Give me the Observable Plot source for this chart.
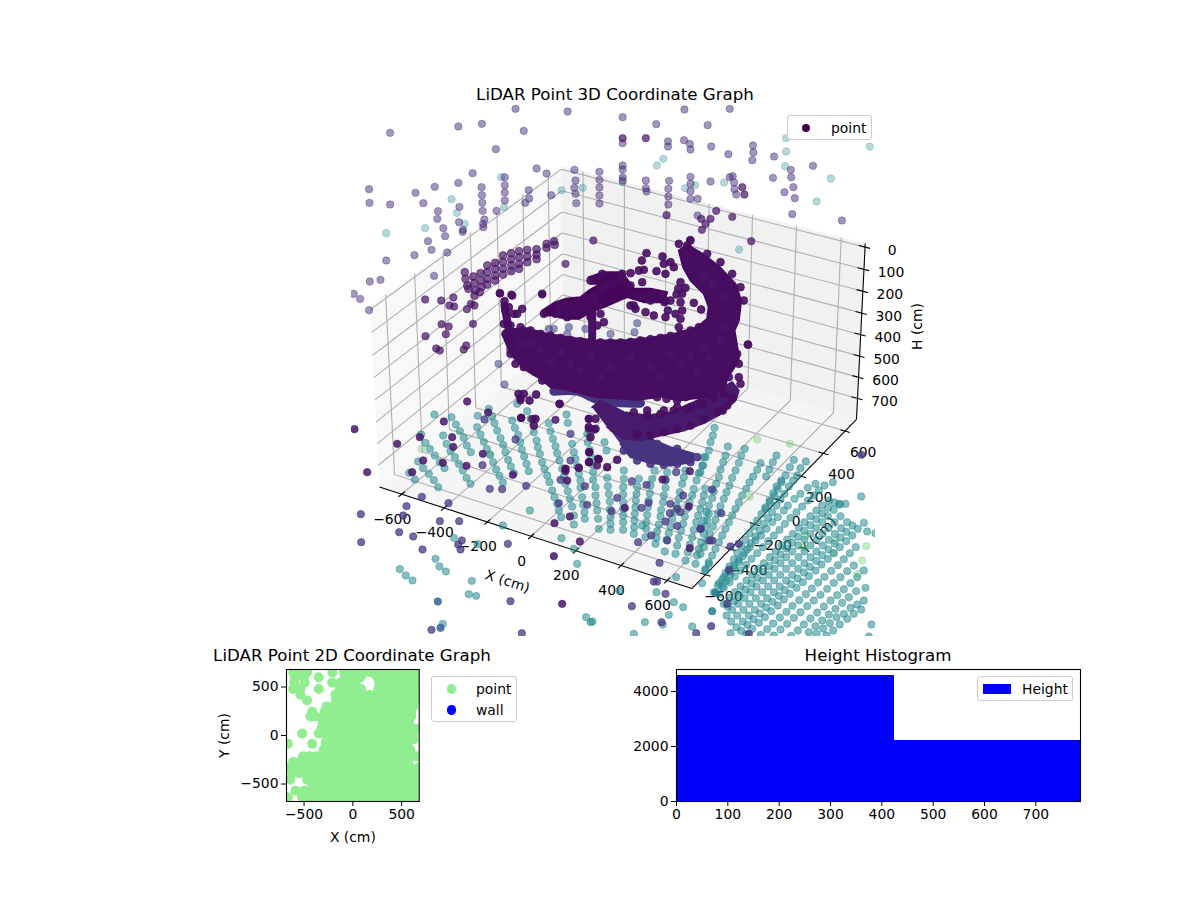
<!DOCTYPE html>
<html><head><meta charset="utf-8">
<script src="https://cdn.jsdelivr.net/npm/d3@7"></script>
<script src="https://cdn.jsdelivr.net/npm/@observablehq/plot@0.6"></script>
<style>
html,body{margin:0;padding:0;background:#fff}
#page{position:relative;width:1200px;height:900px;overflow:hidden;font-family:"DejaVu Sans",sans-serif;color:#000}
#page svg,.abs{position:absolute}
.title{font-size:16.67px;transform:translateX(-50%);white-space:nowrap;line-height:20px}
.legend{position:absolute;box-sizing:border-box;border:1px solid #ccc;border-radius:3px;background:rgba(255,255,255,.85)}
.legend span{position:absolute;font-size:13.9px;line-height:16px;white-space:nowrap}
.legend i{position:absolute;display:block}
</style></head><body><div id="page"></div>
<script>
/* ---------- tick labels and limits of the three panels ---------- */
const xyTicks = [-600,-400,-200,0,200,400,600];
const hTicks = [0,100,200,300,400,500,600,700];
const paneXY = 706;          // cm, half width of the 3D panes
const paneHLow = -16, paneHHigh = 801; // cm, top and bottom of the 3D panes
const ticks2D = [-500,0,500];
const histXTicks = [0,100,200,300,400,500,600,700];
const histYTicks = [0,2000,4000];
const histEdges = [0,425,787];
const histCounts = [4580,2218];

/* ---------- 3D points (projected positions, crop units) ----------
   crops: [left, top, x zoom, y zoom] */
const crops = {A:[350,400,3,3],B:[530,400,3,3],C:[700,400,3,3],D:[490,230,3,3],T:[340,90,2.8,3]};

const tealFloorA = [203,183,218,203,235,220,250,239,263,260,193,237,176,217,212,102,225,127,238,145,253,165,268,185,282,203,252,42,278,105,288,130,300,152,313,170,325,190,337,210,348,232,360,250,303,50,316,72,328,92,340,112,349,135,361,155,382,46,380,80,390,102,400,124,409,145,419,163,428,185,437,207,447,226,457,246,415,25,425,48,432,68,440,90,450,113,458,133,465,155,473,178,481,198,490,218,485,60,493,82,503,103,509,125,514,147,521,168,528,190,535,212,500,10,530,32,540,55,457,375,538,330,310,412,381,431,255,475,267,498,286,513,148,506,166,525,186,540,364,541,355,581,377,586,277,670];
const tealFloorB = [10,95,18,120,22,140,28,160,35,185,42,205,50,225,57,245,65,270,72,290,80,310,85,330,92,350,55,68,60,92,67,115,75,137,80,158,87,180,95,205,100,228,105,250,112,272,118,295,125,318,130,345,130,372,108,42,112,67,125,130,130,155,135,175,140,197,145,220,150,240,150,262,155,290,158,312,162,335,163,355,170,100,172,125,178,148,182,170,185,192,188,215,188,238,195,260,195,285,198,308,200,330,203,355,205,385,222,125,228,150,230,232,232,257,235,280,238,303,238,327,240,350,240,370,240,388,280,210,280,235,278,260,278,282,278,305,278,325,278,345,278,365,278,388,325,235,320,258,318,280,316,300,315,320,313,340,312,360,311,380,310,400,372,210,365,235,360,255,358,278,355,300,352,320,350,343,348,365,347,385,345,410,410,215,405,240,405,262,400,285,398,305,392,328,390,348,385,372,380,392,378,412,375,430,465,210,460,230,455,250,448,275,445,295,438,315,432,335,425,355,420,378,415,398,408,418,403,453,520,170,515,195,505,218,498,240,490,265,485,285,477,305,470,325,463,348,458,370,452,390,445,412,440,435,435,460,525,265,520,285,515,305,510,325,503,345,497,365,490,388,485,410,478,432,472,455,465,480,535,340,530,360,525,380,520,400,512,425,505,445,500,465,495,490,525,510,515,548,535,490,93,413,130,445,140,490,335,375,437,530,267,570,378,575,430,605,458,620,485,678,415,643,343,665,397,672,310,700,167,650,180,665,186,663];
const tealFloorC = [0,215,8,195,15,170,25,150,30,125,37,105,42,82,82,138,75,165,68,185,60,207,55,230,47,250,40,273,35,293,25,315,18,335,10,360,2,380,133,145,122,165,115,187,105,210,95,232,87,255,78,275,70,295,60,317,52,338,45,358,37,378,28,400,20,420,10,440,0,460,180,188,170,208,158,228,147,245,137,265,125,285,115,305,105,325,95,345,85,365,75,385,65,405,55,425,45,445,35,465,25,485,15,505,228,165,217,185,207,207,197,228,242,240,228,258,218,278,207,300,195,320,183,340,170,360,160,378,147,398,135,418,122,437,110,457,100,477,87,497,75,517,65,537,52,555,40,575,280,178,268,200,255,225,243,245,232,265,222,285,208,305,195,325,316,183,300,203,290,225,278,240,265,258,252,280,240,297,228,315,215,335,203,352,190,370,178,390,165,408,152,428,140,447,127,467,115,485,102,503,90,522,78,540,65,558,345,250,322,262,300,280,282,295,262,315,250,330,232,350,215,365,198,385,182,405,165,420,148,440,132,458,115,478,100,495,85,513,70,530,55,548,372,255,355,270,340,285,322,300,305,318,288,335,270,352,253,370,237,388,220,405,203,422,187,440,170,458,153,475,137,493,120,510,103,528,87,545,70,562,55,580,397,245,385,300,365,315,348,330,330,347,312,365,295,382,277,400,260,417,243,435,225,453,208,470,190,488,173,505,155,523,138,540,120,558,103,575,87,592,70,610,418,312,400,328,382,347,365,365,347,382,330,400,312,418,293,435,275,453,257,470,240,488,222,505,205,523,187,540,168,558,150,575,132,593,113,610,95,628,78,645,440,365,422,383,403,400,385,418,367,435,348,453,330,470,312,488,293,505,275,523,257,540,238,558,220,575,200,593,182,610,163,628,145,645,127,663,108,680,90,698,472,385,455,405,437,422,418,440,400,458,382,475,363,492,345,510,325,527,307,545,288,562,268,580,250,597,232,615,212,632,193,650,175,667,155,685,137,702,460,495,440,512,420,530,400,547,380,565,360,583,340,600,320,617,300,635,280,652,260,670,240,687,220,705,495,562,467,572,445,590,425,607,405,625,385,642,365,660,345,677,325,695,482,627,460,640,440,655,418,672,398,690,378,705,482,288,525,398,500,393,538,380,513,672,505,708,490,367,435,310,417,310];
const tealFloorC2 = [402,306,383,322,365,339,347,356,329,374,311,391,293,409,275,426,258,444,240,462,223,479,206,497,188,514,170,532,153,549,135,567,117,584,100,602,82,619,420,347,402,365,384,383,366,400,348,418,330,435,312,453,294,470,275,488,257,505,239,523,221,540,203,558,185,575,166,593,147,610,129,628,110,645,92,663,456,375,438,394,420,411,402,429,384,447,365,464,347,481,328,499,310,516,291,534,272,551,253,569,235,586,216,604,197,621,178,639,159,656,141,673,122,691,466,440,448,458,430,476,412,494,392,511,372,529,353,546,334,564,316,581,296,599,276,616,258,634,238,651,218,669,200,686,181,703,490,510,470,530,450,548,430,566,410,584,390,600,370,618,350,636,330,654,310,672,292,690,272,706,490,600,470,612,450,622,430,640,408,650,388,668,368,684,348,700];
const paleGreenA = [213,145,418,160];
const paleGreenC = [170,117,268,130,148,288,315,405,310,440,405,420,398,458,497,437,485,480,472,520];
const bluePurpleA = [402,57,396,194,495,117,418,265,455,266,527,256,214,289,168,317,294,308,158,345,146,395,31,341,188,408,216,447,268,362,326,362,334,420,323,432,330,447,32,425,472,430,480,602,243,688,514,698];
const steelBlueA = [262,603,270,682];
const bluePurpleB = [120,100,120,180,90,238,163,257,85,308,170,313,260,292,243,332,304,242,348,253,333,322,354,307,405,237,437,215,420,310,418,338,405,363,440,376,440,325,450,335,458,285,410,420,510,385,323,425,387,487,362,405,370,543,380,543,304,617,405,580,393,665,497,698,537,420];
const bluePurpleC = [483,163,35,267,62,338,35,420,90,438,115,430,85,508,80,610,32,677,145,700,0,385];
const steelTealC = [45,577,35,632];
const darkA = [12,86,50,215,140,130,208,110,185,215,218,180,277,187,348,196,280,63,308,139,305,110,413,36,397,160,487,223,512,52,350,3,510,0];
const darkB = [110,240,105,212,177,155,175,185,200,195,205,177,118,348,72,368,148,423,70,467,95,610,283,322,396,237,478,212,475,318,478,443,5,55,75,58,88,10,175,55,175,85,190,88];
const fadedTop = [490,55,636,63,790,80,963,57,1090,55,330,108,396,100,513,121,139,127,884,101,1028,104,435,176,962,149,790,158,1155,165,1156,186,1153,209,917,153,917,168,978,160,980,177,1038,168,1086,191,1214,198,370,248,549,234,577,249,655,238,725,244,790,225,790,237,1261,238,1323,226,1211,262,1262,260,1268,290,1272,323,1243,305,460,260,460,284,460,306,460,330,395,290,396,314,397,337,398,361,403,387,399,400,400,410,264,289,210,307,330,277,80,296,81,337,139,342,232,338,273,362,271,385,288,413,293,437,333,349,332,395,343,418,342,424,245,452,255,478,299,486,207,494,128,510,82,573,112,568,37,610,55,625,80,659,262,556,527,299,528,324,517,337,437,361,590,314,655,292,658,270,658,310,660,338,725,268,725,291,725,315,725,339,790,260,790,270,855,270,855,293,857,303,920,271,918,295,918,318,918,342,980,259,980,280,980,302,980,325,1000,325,1036,273,1090,260,1098,257,1102,276,1103,296,1108,312,1000,375,1404,390,1265,371];
const paleTealTop = [1248,143,1482,168,1248,183,904,205,886,225,1245,227,790,275,678,292,619,299,450,260,311,326,326,367,348,400,237,413,128,428,458,350,965,293,993,284,1074,276,1333,333,1373,264,1116,477];
const darkTop = [790,143,855,143,1125,290,1131,312,913,374,1052,361,1097,379,1010,385,1036,385,1022,400,1012,418,979,448,1150,452,708,450,630,520,447,609,478,612,565,612,316,621,282,630,237,627,305,645,318,648,354,656,365,640,375,645,283,701,303,708,371,700,238,737,295,731,268,774,278,780,345,777,352,765,1142,763];
const wallCluster = [348,545,350,565,355,585,358,595,372,558,375,578,378,600,375,615,392,548,393,570,395,590,390,605,411,525,411,545,411,565,411,582,433,517,433,535,433,555,433,570,455,495,455,515,455,535,455,552,478,488,478,506,478,525,478,542,500,482,500,500,500,520,500,535,523,478,523,498,523,515,549,476,549,492,549,506,577,460,577,472,598,452,600,463];
const spiralEdge = [155,190,28,188,65,195,42,212,55,230,95,235,70,250,80,250,468,68,516,78,454,90,498,122,445,120,460,118,420,128,455,155,470,195,570,155,563,175,585,172,575,190,558,192,610,217,570,215,575,240,632,237,555,250,570,265,525,260,540,210,465,245,490,255,420,225,435,235,565,290,522,215,532,240,772,342,520,100,540,95,525,130,550,110,84,490,100,490,90,503,117,510,137,492,207,520,135,565,92,562,130,585,295,565,315,565,295,590,315,595,300,620,296,665,296,695,323,685,350,710,380,688,225,715,265,712,745,440,750,460,697,540,655,490,610,485,585,500,560,510,528,505,60,370,75,400,100,410,135,425,155,450,45,310,740,370,745,400,715,440,600,30,565,40,590,45,760,210,750,170,725,130,690,95,650,70,500,500,470,540,520,540,560,530,600,530,640,520,60,285,90,290,120,300,150,310,180,315,210,322,240,328,270,332,300,335,330,336,360,336,390,336,420,334,450,330,480,326,510,322,540,316,570,310,600,300,625,290,440,610,480,615,520,605,560,595,600,585,640,565,680,545,710,525,725,500,430,545,470,555,510,550,550,540,590,535,630,520,670,505,700,490,300,150,335,130,395,130,230,260,195,250,160,250,265,215,430,225,480,210,525,210,45,240,40,280,205,225,225,225,245,225,205,245,225,245,245,245,265,235,285,205,310,195,335,175,350,160,370,160,395,150,420,165,440,195,460,195,500,195,515,195,480,190,310,215,290,225,275,245,300,250,330,250,340,275,320,285,300,260];
const spiralTexture = [180,395,240,400,300,375,360,410,420,380,480,410,540,370,600,375,640,350,655,380,690,330,700,290,640,140,665,160,700,200,120,340,90,340,150,355,210,365,270,420,330,440,510,440,570,405,620,425,440,560,560,560,630,545];
const tailEdge = [400,660,440,690,480,700,520,703,560,700,600,695,620,680,500,640,560,655];
const behindRing = [175,295,190,295,235,290,230,310,285,295,360,310,432,305,440,278,24,400,58,358,42,462];

/* dense parts of the spiral: outlines read in crop D */
const massOutline = [42,300,100,292,170,310,240,322,320,330,400,330,480,322,560,308,620,290,650,265,655,230,640,190,600,150,578,110,565,60,590,42,640,72,690,112,735,160,752,210,745,270,732,300,742,360,745,390,712,440,700,480,640,500,560,510,520,498,440,508,320,500,230,478,180,470,150,445,100,415,60,370,35,310];
const lowerOutline = [305,530,330,510,400,545,470,555,540,545,610,515,680,480,725,455,745,480,735,510,690,550,640,578,580,600,510,615,450,630,400,625,350,590];
const tailOutline = [360,600,430,615,480,625,540,650,610,670,605,695,540,705,470,695,420,680,390,640];
const crownOutline = [295,140,340,125,395,125,430,175,480,175,530,185,520,215,460,215,410,200,385,210,340,230,300,245,265,265,225,265,190,255,160,255,155,240,195,215,225,205,270,200,295,180,330,160,300,160];
const bandLowerBlue = [190,482,260,482,330,510,450,518];
const bandLeftArm = [42,225,50,270,55,300];
const bandStem = [305,240,305,320];

/* 2D panel rows: first the Y value, then the X values (cm) */
const pointRows = [
[650,-610,-540,-470,-210,-90,-20,50,120,190,260,330,400,470,540,610,670],
[600,-595,-500,-350,-80,10,80,250,320,390,460,530,600,665],
[545,-600,-495,-212,-130,-50,30,270,340,410,480,550,620,680],
[480,-612,-537,-349,-135,-60,15,85,260,330,400,470,540,610,670],
[420,-537,-180,-110,-40,30,100,170,240,310,380,450,520,590,650],
[360,-469,-175,-105,-35,35,105,175,245,315,385,455,525,595,640],
[300,-270,-200,-130,-60,10,80,150,220,290,360,430,500,570,620],
[245,-417,-290,-220,-150,-80,-10,60,130,200,270,340,410,480,550,600],
[195,-434,-383,-300,-230,-160,-90,-20,50,120,190,260,330,400,470,540,598],
[130,-310,-240,-170,-100,-30,40,110,180,250,320,390,460,530,580],
[70,-320,-250,-180,-110,-40,30,100,170,240,310,380,450,520,590,643],
[20,-520,-349,-280,-210,-140,-70,0,70,140,210,280,350,420,490,560,620],
[-40,-270,-200,-130,-60,10,80,150,220,290,360,430,500,570,620],
[-85,-667,-417,-280,-210,-140,-70,0,70,140,210,280,350,420,490,560],
[-150,-300,-230,-160,-90,-20,50,120,190,260,330,400,470,540,590],
[-215,-510,-440,-370,-300,-230,-160,-90,-20,50,120,190,260,330,400,470,540,592,650],
[-270,-610,-540,-470,-400,-330,-260,-190,-120,-50,20,90,160,230,300,370,440,510,570],
[-330,-665,-595,-525,-455,-385,-315,-245,-175,-105,-35,35,105,175,245,315,385,455,525,595,670],
[-390,-620,-550,-480,-410,-340,-270,-200,-130,-60,10,80,150,220,290,360,430,500,570,640],
[-455,-640,-470,-400,-330,-260,-190,-120,-50,20,90,160,230,300,370,440,510,580,650],
[-510,-420,-350,-280,-210,-140,-70,0,70,140,210,280,350,420,490,560,630],
[-570,-588,-500,-430,-360,-290,-220,-150,-80,-10,60,130,200,270,340,410,480,550,620,670],
[-635,-665,-520,-450,-380,-310,-240,-170,-100,-30,40,110,180,250,320,390,460,530,600,665]
];

/* ---------- 3D camera (elevation 30, azimuth -60, matplotlib defaults) ---------- */
const elev = 30*Math.PI/180, azim = -60*Math.PI/180, eyeDist = 15.4, boxZ = 0.579;
const viewScale = 177.8, viewCx = 622.3, viewCy = 364.5;
const W = [Math.cos(elev)*Math.cos(azim), Math.cos(elev)*Math.sin(azim), Math.sin(elev)];
const U = [-Math.sin(azim), Math.cos(azim), 0];
const V = [W[1]*U[2]-W[2]*U[1], W[2]*U[0]-W[0]*U[2], W[0]*U[1]-W[1]*U[0]];
const dot3 = (a,b)=>a[0]*b[0]+a[1]*b[1]+a[2]*b[2];
function project(x,y,h){
  const hMid=(paneHLow+paneHHigh)/2, hHalf=(paneHHigh-paneHLow)/2;
  const p=[x/paneXY,y/paneXY,boxZ*(hMid-h)/hHalf];
  const f=eyeDist/(eyeDist-dot3(W,p));
  return [viewCx+viewScale*dot3(U,p)*f, viewCy-viewScale*dot3(V,p)*f];
}
const seg=(a,b)=>{const p=project(...a),q=project(...b);return {x1:p[0],y1:p[1],x2:q[0],y2:q[1]};};
const xMin=-paneXY,xMax=paneXY,yMin=-paneXY,yMax=paneXY,hTop=paneHLow,hBot=paneHHigh;
const poly=(...c)=>c.map(p=>{const q=project(...p);return {x:q[0],y:q[1]};});

const panes=[
 {fill:"#f8f8f8",pts:poly([xMin,yMin,hBot],[xMin,yMax,hBot],[xMin,yMax,hTop],[xMin,yMin,hTop])},
 {fill:"#f1f1f1",pts:poly([xMin,yMax,hBot],[xMax,yMax,hBot],[xMax,yMax,hTop],[xMin,yMax,hTop])},
 {fill:"#f5f5f5",pts:poly([xMin,yMin,hBot],[xMax,yMin,hBot],[xMax,yMax,hBot],[xMin,yMax,hBot])}
];
const gridSegs=[
 ...xyTicks.flatMap(t=>[seg([t,yMin,hBot],[t,yMax,hBot]),seg([t,yMax,hBot],[t,yMax,hTop])]),
 ...xyTicks.flatMap(t=>[seg([xMin,t,hBot],[xMax,t,hBot]),seg([xMin,t,hBot],[xMin,t,hTop])]),
 ...hTicks.flatMap(t=>[seg([xMin,yMin,t],[xMin,yMax,t]),seg([xMin,yMax,t],[xMax,yMax,t])])
];
const axisSegs=[seg([xMin,yMin,hBot],[xMax,yMin,hBot]),seg([xMax,yMin,hBot],[xMax,yMax,hBot]),seg([xMax,yMax,hBot],[xMax,yMax,hTop])];
const tickSegs=[
 ...xyTicks.map(t=>seg([t,yMin-22,hBot],[t,yMin+22,hBot])),
 ...xyTicks.map(t=>seg([xMax-22,t,hBot],[xMax+22,t,hBot])),
 ...hTicks.map(t=>seg([xMax-28,yMax,t],[xMax+22,yMax,t]))
];
const minus=v=>v<0?"\u2212"+(-v):String(v);
const labelAt=(pts,fn)=>pts.map(t=>{const q=fn(t);return {x:q[0],y:q[1],t:minus(t)};});
const xLabels=labelAt(xyTicks,t=>project(t,yMin,hBot));
const yLabels=labelAt(xyTicks,t=>project(xMax,t,hBot));
const hLabels=labelAt(hTicks,t=>project(xMax,yMax,t));

function reads(crop,flat){
  const [ox,oy,sx,sy]=crops[crop], out=[];
  for(let i=0;i<flat.length;i+=2) out.push({x:ox+flat[i]/sx,y:oy+flat[i+1]/sy});
  return out;
}
const dotLayer=(rows,c,op,r=3.7)=>Plot.dot(rows,{x:"x",y:"y",r,fill:()=>c,stroke:()=>c,strokeWidth:0.8,fillOpacity:op,strokeOpacity:op,clip:true});
const bandLayer=(flat,c,w)=>Plot.line(reads("D",flat),{x:"x",y:"y",stroke:()=>c,strokeWidth:w,strokeLinecap:"round",strokeLinejoin:"round",curve:"catmull-rom"});
const massLayer=(flat,c)=>Plot.line(reads("D",flat),{x:"x",y:"y",fill:()=>c,stroke:()=>c,strokeWidth:2,strokeLinejoin:"round"});

const dsText={fontFamily:"DejaVu Sans",fontSize:13.9,fill:"black"};
const chart3D=Plot.plot({
  width:1200,height:640,marginLeft:351,marginRight:325,marginTop:105,marginBottom:4,
  style:{background:"transparent"},
  x:{domain:[351,875],range:[351,875],axis:null},
  y:{domain:[105,636],range:[105,636],axis:null},
  color:{type:"linear",scheme:"viridis",domain:[0,1]},
  marks:[
    ...panes.map(p=>Plot.line(p.pts,{x:"x",y:"y",fill:p.fill,stroke:"none"})),
    Plot.link(gridSegs,{x1:"x1",y1:"y1",x2:"x2",y2:"y2",stroke:"#b0b0b0",strokeWidth:1.1}),
    Plot.link(axisSegs,{x1:"x1",y1:"y1",x2:"x2",y2:"y2",stroke:"black",strokeWidth:1.1}),
    Plot.link(tickSegs,{x1:"x1",y1:"y1",x2:"x2",y2:"y2",stroke:"black",strokeWidth:1.1}),
    Plot.text(xLabels,{x:"x",y:"y",text:"t",dx:-9.5,dy:25,...dsText}),
    Plot.text(yLabels,{x:"x",y:"y",text:"t",dx:18,dy:21.5,...dsText}),
    Plot.text(hLabels,{x:"x",y:"y",text:"t",dx:27,dy:3,...dsText}),
    Plot.text([{x:507,y:581,t:"X (cm)"}],{x:"x",y:"y",text:"t",rotate:18,...dsText}),
    Plot.text([{x:818,y:535,t:"Y (cm)"}],{x:"x",y:"y",text:"t",rotate:-46,...dsText}),
    Plot.text([{x:917,y:326,t:"H (cm)"}],{x:"x",y:"y",text:"t",rotate:-90,...dsText}),
    dotLayer(reads("C",paleGreenC),0.75,0.35),
    dotLayer(reads("A",paleGreenA),0.75,0.35),
    dotLayer(reads("T",paleTealTop),0.47,0.33),
    dotLayer(reads("T",fadedTop),0.13,0.5),
    dotLayer(reads("A",tealFloorA),0.47,0.55),
    dotLayer(reads("B",tealFloorB),0.47,0.55),
    dotLayer(reads("C",tealFloorC),0.47,0.55),
    dotLayer(reads("C",tealFloorC2),0.47,0.55),
    dotLayer(reads("C",steelTealC),0.42,0.85),
    dotLayer(reads("A",steelBlueA),0.32,0.85),
    dotLayer(reads("A",bluePurpleA),0.16,0.75),
    dotLayer(reads("B",bluePurpleB),0.16,0.75),
    dotLayer(reads("C",bluePurpleC),0.18,0.8),
    dotLayer(reads("D",behindRing),0.2,0.55),
    dotLayer(reads("A",darkA),0.06,0.85),
    dotLayer(reads("B",darkB),0.06,0.85),
    dotLayer(reads("T",darkTop),0.05,0.7),
    dotLayer(reads("T",wallCluster),0.05,0.68,3.9),
    bandLayer(bandLowerBlue,0.15,9),
    massLayer(tailOutline,0.15),
    dotLayer(reads("D",tailEdge),0.15,0.9,3.9),
    massLayer(lowerOutline,0.07),
    massLayer(massOutline,0.035),
    bandLayer(bandLeftArm,0.04,8),
    bandLayer(bandStem,0.05,8),
    massLayer(crownOutline,0.015),
    dotLayer(reads("D",spiralEdge),0.035,0.9,3.9),
    dotLayer(reads("D",spiralTexture),0.1,0.3,3.4)
  ]
});
chart3D.style.left="0";chart3D.style.top="0";

/* 2D scatter */
const pts2D=pointRows.flatMap(r=>r.slice(1).map(x=>({x,y:r[0]})));
const fmt=v=>minus(v);
const axisFont={fontSize:13.9,fontFamily:"DejaVu Sans"};
const chart2D=Plot.plot({
  width:300,height:210,marginLeft:86,marginRight:81.3,marginTop:29,marginBottom:49,
  style:{background:"transparent",fontFamily:"DejaVu Sans",fontSize:"13.9px",color:"black"},
  x:{domain:[-680,680]},y:{domain:[-680,680]},
  marks:[
    Plot.dot(pts2D,{x:"x",y:"y",r:5,fill:"#90ee90",clip:true}),
    Plot.frame({stroke:"black",strokeWidth:1.1}),
    Plot.axisX({ticks:ticks2D,tickFormat:fmt,tickSize:5,tickPadding:3,label:"X (cm)",labelAnchor:"center",labelArrow:"none",labelOffset:40,...axisFont}),
    Plot.axisY({ticks:ticks2D,tickFormat:fmt,tickSize:5,tickPadding:3,label:"Y (cm)",labelAnchor:"center",labelArrow:"none",labelOffset:67,...axisFont})
  ]
});
chart2D.style.left="200px";chart2D.style.top="640px";

/* histogram */
const histRows=histCounts.map((c,i)=>({x1:histEdges[i],x2:histEdges[i+1],y:c}));
const chartHist=Plot.plot({
  width:480,height:210,marginLeft:56,marginRight:20,marginTop:29,marginBottom:49,
  style:{background:"transparent",fontFamily:"DejaVu Sans",fontSize:"13.9px",color:"black"},
  x:{domain:[0,787]},y:{domain:[0,4800]},
  marks:[
    Plot.rect(histRows,{x1:"x1",x2:"x2",y1:0,y2:"y",fill:"#0000ff",shapeRendering:"crispEdges"}),
    Plot.frame({stroke:"black",strokeWidth:1.1}),
    Plot.axisX({ticks:histXTicks,tickSize:5,tickPadding:3,label:null,...axisFont}),
    Plot.axisY({ticks:histYTicks,tickFormat:d=>String(d),tickSize:5,tickPadding:3,label:null,...axisFont})
  ]
});
chartHist.style.left="620px";chartHist.style.top="640px";

const page=document.getElementById("page");
page.append(chart2D,chartHist,chart3D);
function title(text,cx,cy){const d=document.createElement("div");d.className="abs title";d.textContent=text;d.style.left=cx+"px";d.style.top=(cy-10)+"px";page.append(d);}
title("LiDAR Point 3D Coordinate Graph",615,95);
title("LiDAR Point 2D Coordinate Graph",352,656);
title("Height Histogram",878,656);
function legend(l,t,w,h,items){
  const b=document.createElement("div");b.className="legend";
  Object.assign(b.style,{left:l+"px",top:t+"px",width:w+"px",height:h+"px"});
  for(const it of items){
    const i=document.createElement("i");
    Object.assign(i.style,{left:(it.mx-l-1-it.w/2)+"px",top:(it.my-t-1-it.h/2)+"px",width:it.w+"px",height:it.h+"px",background:it.color,borderRadius:it.round?"50%":"0"});
    const s=document.createElement("span");s.textContent=it.text;
    Object.assign(s.style,{left:(it.tx-l-1)+"px",top:(it.my-t-1-8)+"px"});
    b.append(i,s);
  }
  page.append(b);
}
legend(787,115,85,25,[{mx:805.5,my:127.5,w:8,h:8,round:true,color:"#440154",tx:831,text:"point"}]);
legend(431,676,86,46,[{mx:451.5,my:689,w:9.5,h:9.5,round:true,color:"#90ee90",tx:476,text:"point"},{mx:451.5,my:710,w:9.5,h:9.5,round:true,color:"#0000ff",tx:476,text:"wall"}]);
legend(977,676,96,25,[{mx:997,my:688.5,w:28,h:10,color:"#0000ff",tx:1022,text:"Height"}]);
</script></body></html>
